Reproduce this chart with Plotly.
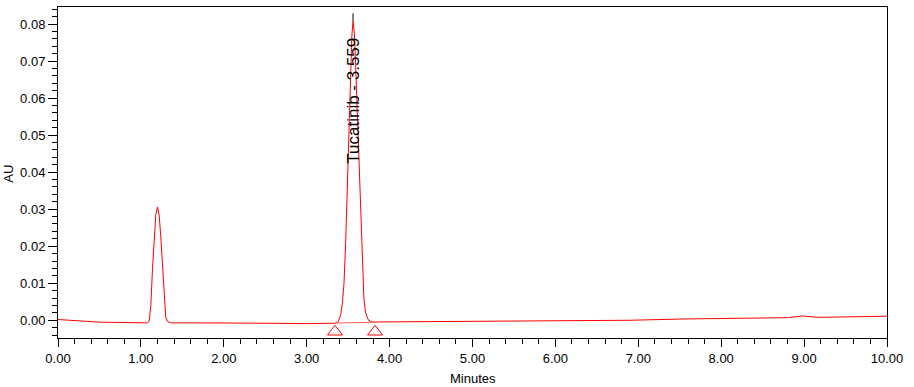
import plotly.graph_objects as go

# Chromatogram trace (minutes, AU)
time_min = [0.00, 0.25, 0.50, 0.75, 1.00, 1.08,
            1.10, 1.12, 1.14, 1.16, 1.18, 1.20, 1.22, 1.24, 1.26, 1.28, 1.30, 1.32, 1.36,
            1.70, 2.00, 2.50, 3.00, 3.34,
            3.38, 3.41, 3.43, 3.45, 3.47, 3.49, 3.51, 3.53, 3.545, 3.559, 3.575, 3.59,
            3.61, 3.63, 3.65, 3.67, 3.69, 3.71, 3.74, 3.78, 3.82,
            3.90, 4.50, 5.00, 6.00, 6.90, 7.55, 8.36, 8.80, 8.98, 9.16, 9.50, 10.00]
signal_au = [0.0002, -0.0002, -0.0005, -0.0006, -0.0007, -0.0007,
             -0.0002, 0.0040, 0.0140, 0.0225, 0.0285, 0.0306, 0.0285, 0.0225, 0.0150, 0.0055, 0.0008, -0.0003, -0.0007,
             -0.0007, -0.0008, -0.0008, -0.0009, -0.0008,
             -0.0004, 0.0015, 0.0045, 0.0100, 0.0210, 0.0350, 0.0510, 0.0670, 0.0770, 0.0807, 0.0775, 0.0690,
             0.0560, 0.0430, 0.0290, 0.0150, 0.0060, 0.0020, 0.0002, -0.0004, -0.0005,
             -0.00045, -0.0004, -0.0003, -0.0001, 0.0000, 0.00035, 0.0005, 0.0007, 0.00116, 0.0008, 0.0009, 0.0011]

# Integration marks of the Tucatinib peak
peak_start_end = [3.341, 3.824]
peak_base_au = [-0.00075, -0.00054]
triangle_au = [-0.0031, -0.0031]

peak_name = "Tucatinib"
peak_rt = 3.559
peak_apex_au = 0.0807
marker_top_au = 0.0829
label_center_au = 0.0593

x_ticks = [0, 1, 2, 3, 4, 5, 6, 7, 8, 9, 10]
y_ticks = [0.00, 0.01, 0.02, 0.03, 0.04, 0.05, 0.06, 0.07, 0.08]

FONT = "Liberation Sans, Arial, sans-serif"

fig = go.Figure()
fig.add_trace(go.Scatter(x=time_min, y=signal_au, mode="lines",
                         line=dict(color="#ff0000", width=1), hoverinfo="skip"))
fig.add_trace(go.Scatter(x=peak_start_end, y=peak_base_au, mode="lines",
                         line=dict(color="#ff6060", width=1), hoverinfo="skip"))
fig.add_trace(go.Scatter(x=peak_start_end, y=triangle_au, mode="markers",
                         marker=dict(symbol="triangle-up-open", size=13,
                                     color="#ff0000", line=dict(width=1, color="#ff0000")),
                         hoverinfo="skip"))
fig.add_trace(go.Scatter(x=[peak_rt, peak_rt], y=[peak_apex_au, marker_top_au], mode="lines",
                         line=dict(color="black", width=1), hoverinfo="skip"))

fig.add_annotation(x=peak_rt, y=label_center_au, xref="x", yref="y",
                   text=f"{peak_name} - {peak_rt:.3f}", textangle=-90, showarrow=False,
                   xanchor="center", yanchor="middle", xshift=1,
                   font=dict(family=FONT, size=17, color="black"))

fig.add_annotation(x=0.5, y=-0.121, xref="paper", yref="paper", text="Minutes",
                   showarrow=False, xanchor="center", yanchor="middle",
                   font=dict(family=FONT, size=13, color="black"))
fig.add_annotation(x=-0.0595, y=0.4955, xref="paper", yref="paper", text="AU",
                   textangle=-90, showarrow=False, xanchor="center", yanchor="middle",
                   font=dict(family=FONT, size=13, color="black"))

fig.update_layout(
    width=914, height=387,
    margin=dict(l=58, r=27, t=7, b=49),
    paper_bgcolor="white", plot_bgcolor="white",
    showlegend=False,
    font=dict(family=FONT, size=13, color="black"),
    xaxis=dict(range=[0, 10], tickvals=x_ticks, ticktext=[f"{v:.2f}" for v in x_ticks],
               showgrid=False, zeroline=False, showline=True, mirror=True,
               linecolor="black", linewidth=1,
               ticks="outside", ticklen=8, tickcolor="black", tickwidth=1,
               minor=dict(dtick=0.2, tick0=0, ticks="outside", ticklen=5, tickcolor="black", showgrid=False),
               tickfont=dict(family=FONT, size=13, color="black")),
    yaxis=dict(range=[-0.00479, 0.0846], tickvals=y_ticks, ticktext=[f"{v:.2f}" for v in y_ticks],
               showgrid=False, zeroline=False, showline=True, mirror=True,
               linecolor="black", linewidth=1,
               ticks="outside", ticklen=9, tickcolor="black", tickwidth=1,
               minor=dict(dtick=0.002, tick0=0, ticks="outside", ticklen=5, tickcolor="black", showgrid=False),
               tickfont=dict(family=FONT, size=13, color="black")),
)

fig.write_html("out.html", config={"displayModeBar": False},
               post_script="document.body.style.margin='0';document.body.style.padding='0';")
